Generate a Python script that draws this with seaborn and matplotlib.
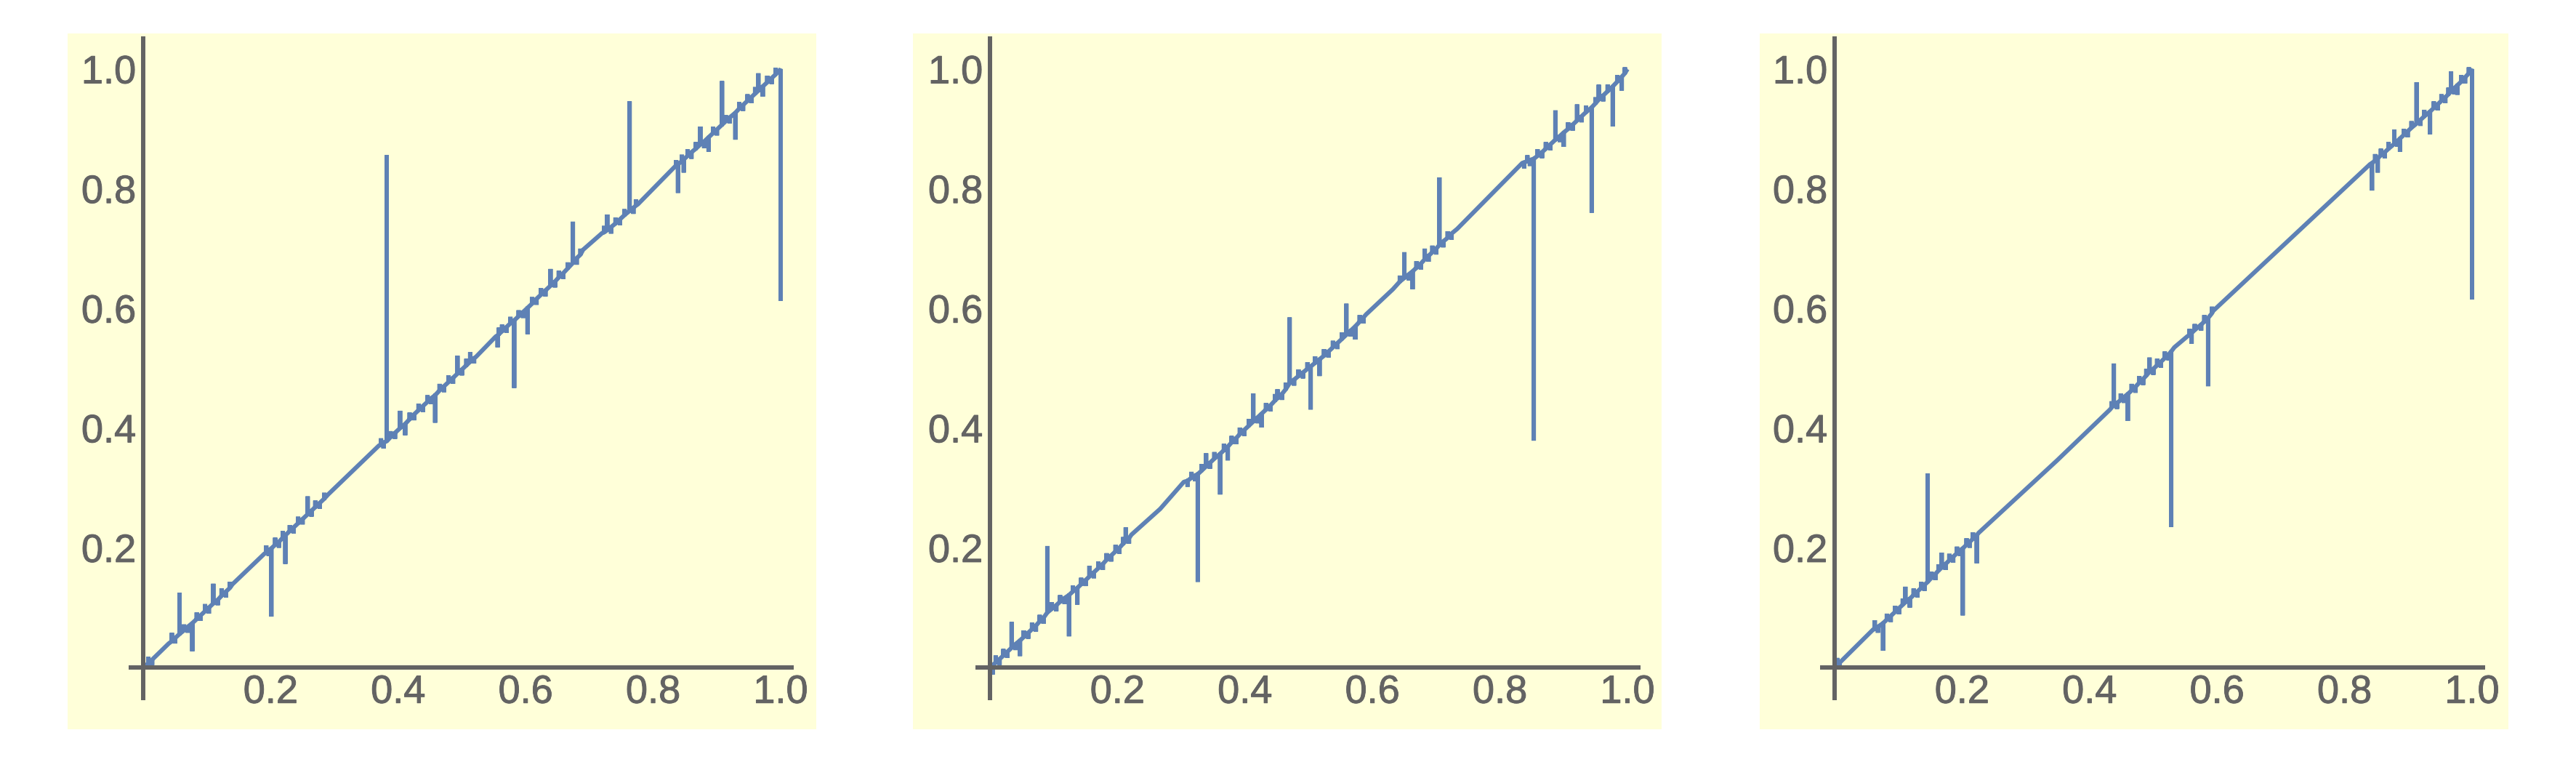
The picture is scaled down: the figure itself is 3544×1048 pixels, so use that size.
import numpy as np
import pandas as pd
import seaborn as sns
from matplotlib import pyplot as plt
from matplotlib import patheffects

# ---- data: smooth knots of each curve, then the vertical jags (x, base, tip) ----
base1_x = [0, 0.04, 0.14, 0.19, 0.29, 0.37, 0.522, 0.553, 0.69, 0.72, 0.776, 0.835, 1.0]
base1_y = [0, 0.04, 0.139, 0.19, 0.289, 0.371, 0.519, 0.553, 0.698, 0.726, 0.774, 0.838, 1.0]
spike1_x = [0.008, 0.014, 0.045, 0.05, 0.057, 0.064, 0.07, 0.077, 0.084, 0.09, 0.097, 0.103,
            0.11, 0.117, 0.123, 0.13, 0.136, 0.193, 0.197, 0.201, 0.207, 0.213, 0.219, 0.223,
            0.23, 0.236, 0.243, 0.25, 0.258, 0.264, 0.27, 0.277, 0.284, 0.373, 0.377, 0.382,
            0.388, 0.395, 0.403, 0.411, 0.418, 0.425, 0.432, 0.439, 0.446, 0.452, 0.458, 0.465,
            0.472, 0.479, 0.486, 0.493, 0.5, 0.507, 0.513, 0.519, 0.556, 0.558, 0.563, 0.57,
            0.576, 0.582, 0.589, 0.596, 0.603, 0.61, 0.617, 0.624, 0.631, 0.639, 0.646, 0.652,
            0.659, 0.666, 0.674, 0.68, 0.686, 0.723, 0.728, 0.734, 0.741, 0.748, 0.755, 0.763,
            0.769, 0.773, 0.836, 0.839, 0.845, 0.848, 0.854, 0.86, 0.867, 0.874, 0.88, 0.887,
            0.894, 0.9, 0.908, 0.914, 0.92, 0.929, 0.935, 0.941, 0.948, 0.954, 0.96, 0.965,
            0.972, 0.979, 0.986, 0.992, 1.0]
spike1_base = [0.007, 0.013, 0.044, 0.049, 0.056, 0.062, 0.068, 0.074, 0.081, 0.087, 0.094, 0.1,
               0.107, 0.113, 0.12, 0.127, 0.133, 0.192, 0.196, 0.199, 0.205, 0.21, 0.217, 0.221,
               0.228, 0.234, 0.241, 0.248, 0.256, 0.262, 0.268, 0.275, 0.282, 0.372, 0.376, 0.378,
               0.385, 0.392, 0.4, 0.407, 0.415, 0.423, 0.43, 0.437, 0.444, 0.45, 0.455, 0.463,
               0.47, 0.477, 0.484, 0.491, 0.498, 0.505, 0.511, 0.517, 0.555, 0.557, 0.562, 0.569,
               0.575, 0.58, 0.587, 0.594, 0.601, 0.608, 0.616, 0.623, 0.63, 0.638, 0.645, 0.652,
               0.659, 0.667, 0.676, 0.684, 0.69, 0.727, 0.731, 0.736, 0.742, 0.749, 0.756, 0.763,
               0.768, 0.772, 0.838, 0.841, 0.846, 0.849, 0.855, 0.861, 0.867, 0.874, 0.879, 0.886,
               0.893, 0.899, 0.907, 0.913, 0.919, 0.927, 0.934, 0.94, 0.947, 0.953, 0.959, 0.964,
               0.971, 0.978, 0.985, 0.991, 1.0]
spike1_tip = [0.018, 0.004, 0.058, 0.04, 0.125, 0.072, 0.058, 0.027, 0.092, 0.078, 0.106, 0.09,
              0.14, 0.104, 0.132, 0.117, 0.143, 0.204, 0.186, 0.085, 0.217, 0.2, 0.228, 0.173,
              0.238, 0.224, 0.252, 0.239, 0.286, 0.252, 0.279, 0.265, 0.292, 0.383, 0.366, 0.856,
              0.395, 0.382, 0.429, 0.388, 0.426, 0.413, 0.441, 0.427, 0.455, 0.44, 0.409, 0.474,
              0.46, 0.488, 0.474, 0.521, 0.488, 0.516, 0.527, 0.508, 0.535, 0.568, 0.573, 0.559,
              0.586, 0.467, 0.597, 0.584, 0.557, 0.619, 0.606, 0.634, 0.62, 0.666, 0.635, 0.663,
              0.649, 0.677, 0.745, 0.673, 0.7, 0.738, 0.757, 0.725, 0.752, 0.739, 0.766, 0.946,
              0.758, 0.782, 0.848, 0.793, 0.857, 0.827, 0.866, 0.85, 0.878, 0.904, 0.868, 0.862,
              0.904, 0.889, 0.98, 0.923, 0.909, 0.882, 0.945, 0.93, 0.958, 0.943, 0.97, 0.993,
              0.954, 0.989, 0.975, 1.002, 0.613]

base2_x = [0, 0.222, 0.267, 0.304, 0.59, 0.632, 0.733, 0.835, 1.0]
base2_y = [0, 0.222, 0.265, 0.31, 0.59, 0.632, 0.733, 0.843, 1.0]
spike2_x = [0.004, 0.009, 0.015, 0.021, 0.027, 0.034, 0.04, 0.047, 0.053, 0.06, 0.066, 0.072,
            0.078, 0.084, 0.09, 0.097, 0.104, 0.11, 0.117, 0.124, 0.13, 0.137, 0.143, 0.15,
            0.156, 0.163, 0.17, 0.177, 0.183, 0.19, 0.197, 0.203, 0.209, 0.213, 0.218, 0.31,
            0.316, 0.322, 0.326, 0.332, 0.339, 0.345, 0.352, 0.361, 0.367, 0.373, 0.379, 0.386,
            0.392, 0.399, 0.406, 0.413, 0.42, 0.426, 0.433, 0.44, 0.447, 0.451, 0.458, 0.464,
            0.47, 0.477, 0.484, 0.491, 0.498, 0.503, 0.51, 0.517, 0.524, 0.531, 0.538, 0.545,
            0.552, 0.559, 0.566, 0.573, 0.58, 0.586, 0.643, 0.65, 0.657, 0.663, 0.669, 0.676,
            0.682, 0.688, 0.694, 0.7, 0.705, 0.711, 0.718, 0.724, 0.838, 0.843, 0.847, 0.853,
            0.859, 0.866, 0.872, 0.879, 0.887, 0.894, 0.9, 0.907, 0.914, 0.921, 0.928, 0.935,
            0.944, 0.95, 0.955, 0.962, 0.969, 0.977, 0.984, 0.991, 0.996]
spike2_base = [0.004, 0.008, 0.014, 0.02, 0.026, 0.033, 0.039, 0.045, 0.051, 0.058, 0.064, 0.07,
               0.077, 0.083, 0.092, 0.098, 0.104, 0.11, 0.116, 0.121, 0.127, 0.133, 0.139, 0.146,
               0.152, 0.159, 0.166, 0.173, 0.18, 0.187, 0.194, 0.2, 0.207, 0.211, 0.216, 0.312,
               0.317, 0.321, 0.323, 0.329, 0.336, 0.342, 0.349, 0.357, 0.363, 0.369, 0.376, 0.383,
               0.39, 0.397, 0.404, 0.411, 0.418, 0.424, 0.431, 0.438, 0.446, 0.45, 0.457, 0.465,
               0.475, 0.481, 0.487, 0.493, 0.499, 0.503, 0.509, 0.515, 0.521, 0.528, 0.535, 0.542,
               0.549, 0.556, 0.563, 0.57, 0.578, 0.585, 0.645, 0.651, 0.657, 0.662, 0.668, 0.675,
               0.682, 0.688, 0.694, 0.7, 0.706, 0.712, 0.718, 0.725, 0.844, 0.846, 0.848, 0.85,
               0.855, 0.861, 0.867, 0.874, 0.882, 0.888, 0.894, 0.9, 0.907, 0.914, 0.921, 0.928,
               0.936, 0.943, 0.949, 0.956, 0.963, 0.971, 0.979, 0.987, 0.993]
spike2_tip = [-0.012, 0.02, 0.004, 0.031, 0.016, 0.076, 0.029, 0.019, 0.062, 0.048, 0.075, 0.06,
              0.088, 0.073, 0.203, 0.109, 0.094, 0.121, 0.106, 0.052, 0.137, 0.105, 0.15, 0.136,
              0.17, 0.149, 0.177, 0.163, 0.191, 0.177, 0.205, 0.19, 0.218, 0.234, 0.207, 0.302,
              0.327, 0.311, 0.143, 0.34, 0.358, 0.332, 0.36, 0.289, 0.374, 0.346, 0.387, 0.373,
              0.401, 0.387, 0.415, 0.458, 0.408, 0.401, 0.442, 0.428, 0.457, 0.465, 0.447, 0.476,
              0.585, 0.471, 0.498, 0.483, 0.51, 0.431, 0.52, 0.487, 0.532, 0.518, 0.546, 0.532,
              0.56, 0.608, 0.553, 0.548, 0.589, 0.575, 0.655, 0.694, 0.647, 0.632, 0.679, 0.665,
              0.7, 0.678, 0.705, 0.69, 0.819, 0.702, 0.729, 0.715, 0.834, 0.856, 0.838, 0.379,
              0.866, 0.851, 0.878, 0.864, 0.931, 0.878, 0.87, 0.911, 0.897, 0.941, 0.911, 0.939,
              0.76, 0.953, 0.974, 0.946, 0.974, 0.904, 0.99, 0.964, 1.003]

base3_x = [0, 0.061, 0.226, 0.349, 0.432, 0.533, 0.553, 0.593, 0.84, 1.0]
base3_y = [0, 0.064, 0.225, 0.346, 0.431, 0.535, 0.553, 0.595, 0.841, 1.0]
spike3_x = [0.004, 0.008, 0.063, 0.068, 0.076, 0.082, 0.088, 0.095, 0.101, 0.107, 0.111, 0.118,
            0.124, 0.13, 0.136, 0.141, 0.146, 0.152, 0.158, 0.163, 0.168, 0.174, 0.18, 0.186,
            0.192, 0.197, 0.201, 0.207, 0.212, 0.217, 0.223, 0.435, 0.438, 0.443, 0.449, 0.454,
            0.46, 0.466, 0.472, 0.478, 0.484, 0.489, 0.494, 0.5, 0.506, 0.512, 0.518, 0.524,
            0.528, 0.557, 0.56, 0.565, 0.575, 0.58, 0.586, 0.592, 0.843, 0.848, 0.852, 0.857,
            0.863, 0.869, 0.878, 0.883, 0.887, 0.893, 0.899, 0.905, 0.913, 0.919, 0.925, 0.934,
            0.94, 0.946, 0.952, 0.958, 0.963, 0.967, 0.972, 0.977, 0.983, 0.989, 0.995, 1.0]
spike3_base = [0.004, 0.008, 0.064, 0.068, 0.074, 0.08, 0.086, 0.093, 0.099, 0.105, 0.109, 0.115,
               0.121, 0.127, 0.133, 0.138, 0.143, 0.15, 0.156, 0.162, 0.167, 0.173, 0.179, 0.185,
               0.191, 0.196, 0.199, 0.205, 0.21, 0.215, 0.221, 0.435, 0.438, 0.442, 0.447, 0.452,
               0.457, 0.463, 0.469, 0.476, 0.482, 0.488, 0.494, 0.499, 0.505, 0.511, 0.517, 0.523,
               0.528, 0.556, 0.559, 0.564, 0.573, 0.578, 0.584, 0.592, 0.843, 0.847, 0.851, 0.856,
               0.861, 0.867, 0.875, 0.88, 0.884, 0.89, 0.896, 0.902, 0.909, 0.915, 0.921, 0.929,
               0.935, 0.941, 0.947, 0.953, 0.958, 0.963, 0.968, 0.973, 0.979, 0.986, 0.993, 1.0]
spike3_tip = [0.016, 0.0, 0.079, 0.058, 0.028, 0.09, 0.076, 0.103, 0.089, 0.115, 0.135, 0.1,
              0.132, 0.117, 0.143, 0.128, 0.324, 0.16, 0.146, 0.172, 0.192, 0.163, 0.19, 0.175,
              0.202, 0.186, 0.087, 0.216, 0.2, 0.226, 0.174, 0.445, 0.508, 0.432, 0.458, 0.442,
              0.412, 0.474, 0.459, 0.487, 0.472, 0.499, 0.518, 0.489, 0.516, 0.501, 0.528, 0.513,
              0.235, 0.566, 0.541, 0.574, 0.563, 0.589, 0.47, 0.603, 0.797, 0.858, 0.827, 0.867,
              0.851, 0.878, 0.899, 0.87, 0.862, 0.9, 0.886, 0.913, 0.978, 0.905, 0.932, 0.891,
              0.946, 0.931, 0.958, 0.943, 0.969, 0.996, 0.958, 0.957, 0.99, 0.976, 1.003, 0.615]

major_ticks = [0.2, 0.4, 0.6, 0.8, 1.0]
tick_labels = ['0.2', '0.4', '0.6', '0.8', '1.0']
minor_x = [0.05, 0.1, 0.15, 0.25, 0.3, 0.35, 0.45, 0.5, 0.55, 0.65, 0.7, 0.75, 0.85, 0.9, 0.95]
minor_y = [-0.05] + minor_x + [1.05]


def build_path(bx, by, sx, sb, st):
    rows = [(x, 0, y) for x, y in zip(bx, by)]
    for x, b, t in zip(sx, sb, st):
        rows += [(x, 1, b), (x, 2, t), (x, 3, b)]
    df = pd.DataFrame(rows, columns=['x', 'k', 'y'])
    return df.sort_values(['x', 'k']).reset_index(drop=True)


paths = [build_path(base1_x, base1_y, spike1_x, spike1_base, spike1_tip),
         build_path(base2_x, base2_y, spike2_x, spike2_base, spike2_tip),
         build_path(base3_x, base3_y, spike3_x, spike3_base, spike3_tip)]

sns.set_style("white")
plt.rcParams['font.family'] = ['Liberation Sans', 'DejaVu Sans']

W, H = 3544, 1048
fig = plt.figure(figsize=(W / 100, H / 100), dpi=100)
fig.patch.set_facecolor('white')

grey = '#636363'
# pixel layout of the three yellow panels and where data 0 sits in each
panel_left = [93, 1256, 2421]
panel_width = 1030
panel_top, panel_bottom = 46, 1003
origin_x = [197, 1362, 2524]
x_scale, y_scale, origin_y = 877, 823, 918
bolder = [patheffects.withStroke(linewidth=0.7, foreground=grey)]

for i, df in enumerate(paths):
    left = panel_left[i]
    ax = fig.add_axes([left / W, 1 - panel_bottom / H,
                       panel_width / W, (panel_bottom - panel_top) / H])
    ax.set_facecolor('#FFFFD9')

    sns.lineplot(data=df, x='x', y='y', sort=False, estimator=None, ax=ax,
                 color='#5E81B5', linewidth=4.3,
                 solid_joinstyle='bevel', solid_capstyle='butt')

    ax.set_xlim((left - origin_x[i]) / x_scale, (left + panel_width - origin_x[i]) / x_scale)
    ax.set_ylim((origin_y - panel_bottom) / y_scale, (origin_y - panel_top) / y_scale)

    for side in ['top', 'right']:
        ax.spines[side].set_visible(False)
    ax.spines['left'].set_position(('data', 0))
    ax.spines['bottom'].set_position(('data', 0))
    ax.spines['left'].set_bounds(-0.0547, 1.0547)
    ax.spines['bottom'].set_bounds(-0.023, 1.021)
    for side in ['left', 'bottom']:
        ax.spines[side].set_color(grey)
        ax.spines[side].set_linewidth(4.3)
        ax.spines[side].set_capstyle('butt')

    ax.set_xticks(major_ticks)
    ax.set_xticklabels(tick_labels)
    ax.set_yticks(major_ticks)
    ax.set_yticklabels(tick_labels)
    ax.set_xticks(minor_x, minor=True)
    ax.set_yticks(minor_y, minor=True)
    ax.tick_params(which='both', direction='in', color=grey, width=2.9,
                   labelsize=39, labelcolor=grey)
    ax.tick_params(which='major', length=6.5)
    ax.tick_params(which='minor', length=4.5)
    ax.tick_params(axis='x', which='major', pad=7)
    ax.tick_params(axis='y', which='major', pad=7)
    for lab in ax.get_xticklabels() + ax.get_yticklabels():
        lab.set_path_effects(bolder)
    ax.set_xlabel('')
    ax.set_ylabel('')
    ax.grid(False)

plt.savefig('out.png', dpi=100)
